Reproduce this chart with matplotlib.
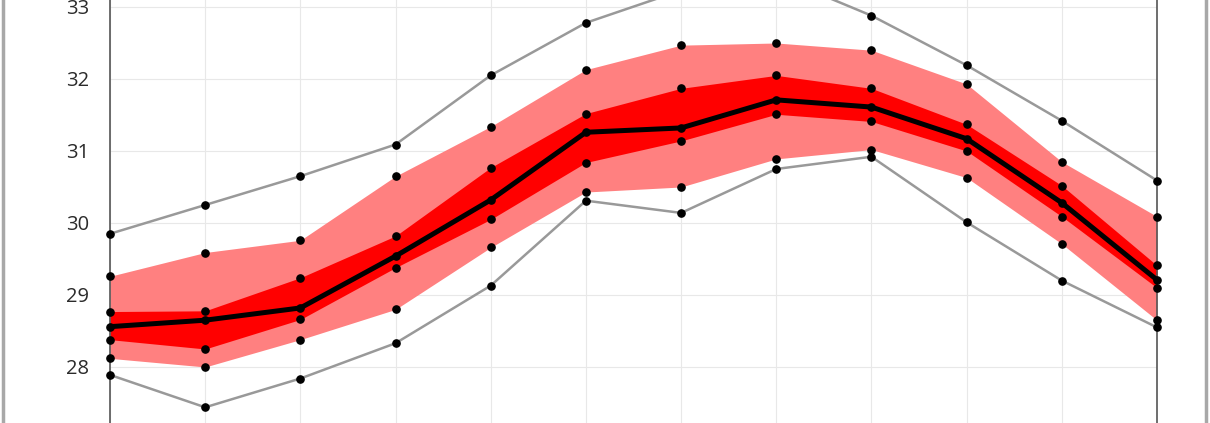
import numpy as np
import matplotlib.pyplot as plt
from matplotlib.lines import Line2D

# --- данные (12 точек) ---
steps = np.arange(12)
v_max = [29.85, 30.25, 30.65, 31.09, 32.05, 32.78, 33.23, 33.43, 32.88, 32.19, 31.42, 30.59]
p_hi = [29.26, 29.59, 29.76, 30.65, 31.34, 32.13, 32.47, 32.50, 32.40, 31.93, 30.85, 30.09]
q_hi = [28.77, 28.78, 29.24, 29.82, 30.77, 31.52, 31.87, 32.05, 31.87, 31.37, 30.52, 29.41]
mean = [28.56, 28.65, 28.82, 29.54, 30.32, 31.26, 31.32, 31.71, 31.61, 31.17, 30.28, 29.21]
q_lo = [28.38, 28.25, 28.66, 29.38, 30.05, 30.84, 31.14, 31.51, 31.41, 31.00, 30.09, 29.10]
p_lo = [28.12, 28.00, 28.38, 28.80, 29.66, 30.43, 30.50, 30.89, 31.02, 30.63, 29.71, 28.65]
v_min = [27.89, 27.44, 27.84, 28.33, 29.13, 30.31, 30.14, 30.75, 30.92, 30.01, 29.20, 28.55]
y_ticks = [28, 29, 30, 31, 32, 33]

plt.rcParams['font.family'] = ['Open Sans', 'DejaVu Sans']

fig = plt.figure(figsize=(12.1, 4.23), dpi=100)
# оси шире холста по вертикали: картинка "обрезана" сверху и снизу
ax = fig.add_axes([110 / 1210, -0.0378, 1047 / 1210, 1.1064])

ax.fill_between(steps, p_lo, p_hi, color='#ff8080', lw=0, zorder=1)
ax.fill_between(steps, q_lo, q_hi, color='#ff0000', lw=0, zorder=2)

for s in (v_max, v_min):
    ax.plot(steps, s, color='#999999', lw=1.8, zorder=3)
ax.plot(steps, mean, color='black', lw=3.6, zorder=4)

for s in (v_max, p_hi, q_hi, mean, q_lo, p_lo, v_min):
    ax.plot(steps, s, 'o', color='black', ms=5.2, zorder=5, clip_on=False)

ax.set_xlim(0, 11)
ax.set_ylim(27, 33.5)
ax.set_xticks(steps)
ax.set_xticklabels([])
ax.set_yticks(y_ticks)
ax.tick_params(axis='both', length=0, pad=15, labelsize=14.5, labelcolor='#2b2b2b')
ax.grid(True, color='#e8e8e8', lw=0.8, zorder=0)
ax.set_axisbelow(True)

for side in ('top', 'bottom'):
    ax.spines[side].set_visible(False)
for side in ('left', 'right'):
    ax.spines[side].set_color('#555555')
    ax.spines[side].set_linewidth(1.2)

# серые рамки по краям
fig.add_artist(Line2D([2.5 / 1210] * 2, [0, 1], color='#a8a8a8', lw=2.5))
fig.add_artist(Line2D([1206 / 1210] * 2, [0, 1], color='#a8a8a8', lw=2.5))

plt.savefig('out.png')
plt.close()
